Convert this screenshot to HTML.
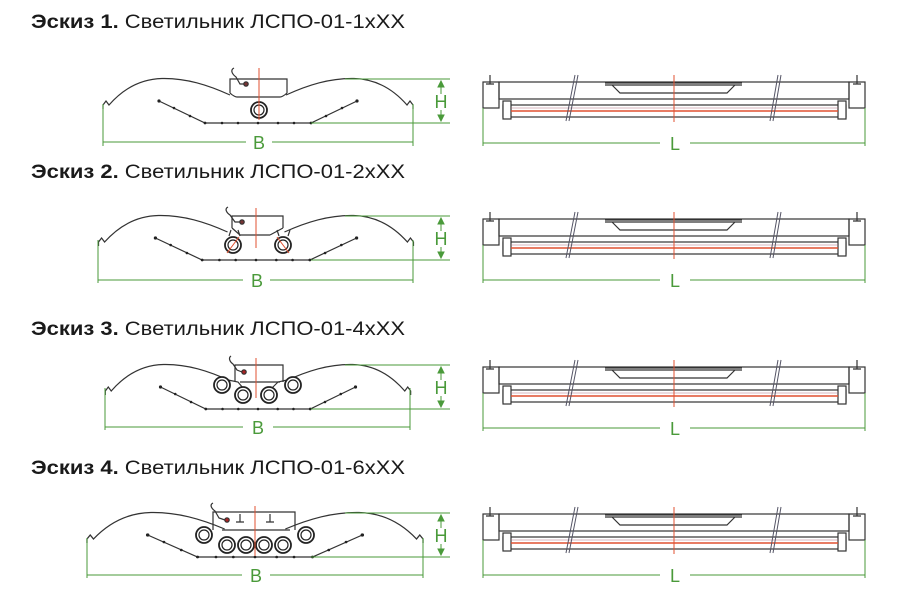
<!DOCTYPE html>
<html><head><meta charset="utf-8"><style>
html,body{margin:0;padding:0;background:#fff;}
svg{display:block;}
text{font-family:"Liberation Sans",sans-serif;}
</style></head><body>
<svg width="902" height="605" viewBox="0 0 902 605" xmlns="http://www.w3.org/2000/svg">
<defs>
 <g id="refl" fill="none" stroke="#333" stroke-width="1.2">
  <path d="M-155,30 L-155,26 L-152,22 L-149,26 C-135,10 -118,0 -96,-0.5 C-72,-1 -50,6 -28,16"/>
  <path d="M155,30 L155,26 L152,22 L149,26 C135,10 118,0 96,-0.5 C72,-1 50,6 28,16"/>
  <path d="M-99,22 L-53,44 L53,44 L99,22"/>
  <g fill="#222" stroke="none">
   <circle cx="-99" cy="22" r="1.6"/><circle cx="-84" cy="29" r="1.3"/><circle cx="-68" cy="37" r="1.3"/>
   <circle cx="99" cy="22" r="1.6"/><circle cx="84" cy="29" r="1.3"/><circle cx="68" cy="37" r="1.3"/>
   <circle cx="-53" cy="44" r="1.4"/><circle cx="-36" cy="44" r="1.3"/><circle cx="-20" cy="44" r="1.3"/><circle cx="0" cy="44" r="1.3"/><circle cx="20" cy="44" r="1.3"/><circle cx="36" cy="44" r="1.3"/><circle cx="53" cy="44" r="1.4"/>
  </g>
 </g>
 <g id="lamp" fill="#fff" stroke="#222">
  <circle r="8" stroke-width="1.8"/><circle r="5" stroke-width="1.2"/>
 </g>
 <g id="side" fill="none" stroke="#333" stroke-width="1.2">
  <rect x="483" y="82" width="16" height="26"/>
  <rect x="849" y="82" width="16" height="26"/>
  <rect x="499" y="82" width="350" height="17"/>
  <path d="M605,83 L742,83 M605,85 L742,85 M612,85 L620,93 L727,93 L735,85"/>
  <rect x="503" y="105" width="343" height="12"/>
  <rect x="503" y="101" width="8" height="18" fill="#fff"/>
  <rect x="838" y="101" width="8" height="18" fill="#fff"/>
  <path d="M490,75 L490,84 M486,84 L494,84 M857,75 L857,84 M853,84 L861,84"/>
  <line x1="511" y1="111" x2="838" y2="111" stroke="#e05030" stroke-width="1.6"/>
  <line x1="511" y1="108" x2="838" y2="108" stroke="#b07080" stroke-width="0.6"/>
  <path d="M566,121 L575,75 M569,121 L578,75 M770,121 L778,75 M773,121 L781,75" stroke="#556" stroke-width="1"/>
  <line x1="674" y1="75" x2="674" y2="122" stroke="#e05030" stroke-width="1"/>
  <g stroke="#4a9a3a" stroke-width="1">
   <path d="M483,108 L483,146 M865,108 L865,146 M483,143 L660,143 M690,143 L865,143"/>
  </g>
  <text x="675" y="150" font-size="18" fill="#4a9a3a" stroke="none" text-anchor="middle">L</text>
 </g>
 <g id="hdim" stroke="#4a9a3a" stroke-width="1" fill="none">
  <path d="M345,0 L450,0 M311,44 L450,44 M441,4 L441,15 M441,31 L441,40"/>
  <path d="M438,8 L441,2 L444,8 Z M438,36 L441,42 L444,36 Z" fill="#4a9a3a"/>
  <text x="441" y="29" font-size="18" fill="#4a9a3a" stroke="none" text-anchor="middle">H</text>
 </g>
</defs>

<text x="31" y="28" font-size="19" fill="#1a1a1a" textLength="374" lengthAdjust="spacingAndGlyphs"><tspan font-weight="bold">Эскиз 1.</tspan> Светильник ЛСПО-01-1хXX</text>
<text x="31" y="178" font-size="19" fill="#1a1a1a" textLength="374" lengthAdjust="spacingAndGlyphs"><tspan font-weight="bold">Эскиз 2.</tspan> Светильник ЛСПО-01-2хXX</text>
<text x="31" y="335" font-size="19" fill="#1a1a1a" textLength="374" lengthAdjust="spacingAndGlyphs"><tspan font-weight="bold">Эскиз 3.</tspan> Светильник ЛСПО-01-4хXX</text>
<text x="31" y="474" font-size="19" fill="#1a1a1a" textLength="374" lengthAdjust="spacingAndGlyphs"><tspan font-weight="bold">Эскиз 4.</tspan> Светильник ЛСПО-01-6хXX</text>

<!-- Sketch 1 -->
<use href="#refl" transform="translate(258,79)"/>
<g fill="none" stroke="#333" stroke-width="1.2">
 <path d="M230,93 L230,79 L287,79 L287,93 M237,97 L280,97 M230,93 C233,96 236,97 237,97 M287,93 C284,96 281,97 280,97"/>
 <path d="M234,68 C230,70 232,74 236,77 L240,84 L244,84"/>
 <circle cx="246" cy="84" r="2.2" fill="#733"/>
</g>
<use href="#lamp" x="259" y="110"/>
<line x1="259" y1="68" x2="259" y2="120" stroke="#e05030" stroke-width="1"/>
<use href="#hdim" transform="translate(0,79)"/>
<g stroke="#4a9a3a" stroke-width="1"><path d="M103,104 L103,146 M413,104 L413,146 M103,142 L246,142 M272,142 L413,142"/></g>
<text x="259" y="149" font-size="18" fill="#4a9a3a" text-anchor="middle">B</text>
<use href="#side"/>

<!-- Sketch 2 -->
<use href="#refl" transform="translate(256,216) scale(1.016,1)"/>
<g fill="none" stroke="#333" stroke-width="1.2">
 <path d="M232,228 L232,216 L283,216 L283,228 M240,235 L270,235 M232,228 L240,235 M283,228 L270,235"/>
 <path d="M228,207 C224,209 227,213 230,215 L235,222 L240,222"/>
 <circle cx="242" cy="222" r="2.2" fill="#733"/>
 <path d="M229,236 L231,230 M240,236 L238,230 M279,236 L277,230 M288,236 L290,230"/>
</g>
<use href="#lamp" x="233" y="245"/><use href="#lamp" x="283" y="245"/>
<line x1="256" y1="208" x2="256" y2="248" stroke="#e05030" stroke-width="1"/>
<line x1="227" y1="253" x2="239" y2="237" stroke="#e05030" stroke-width="1"/>
<line x1="289" y1="253" x2="277" y2="237" stroke="#e05030" stroke-width="1"/>
<use href="#hdim" transform="translate(0,216)"/>
<g stroke="#4a9a3a" stroke-width="1"><path d="M98,240 L98,283 M413,240 L413,283 M98,280 L243,280 M270,280 L413,280"/></g>
<text x="257" y="287" font-size="18" fill="#4a9a3a" text-anchor="middle">B</text>
<use href="#side" transform="translate(0,137)"/>

<!-- Sketch 3 -->
<use href="#refl" transform="translate(258,365) scale(0.985,1)"/>
<g fill="none" stroke="#333" stroke-width="1.2">
 <path d="M235,382 L235,365 L283,365 L283,382 M240,382 L280,382"/>
 <path d="M231,356 C228,358 230,362 233,364 L237,370 L242,372"/>
 <circle cx="244" cy="372" r="2.2" fill="#a22"/>
 <path d="M228,380 L238,382 L243,388 M287,380 L278,382 L272,388"/>
</g>
<use href="#lamp" x="222" y="385"/><use href="#lamp" x="243" y="395"/><use href="#lamp" x="269" y="395"/><use href="#lamp" x="293" y="385"/>
<line x1="256" y1="358" x2="256" y2="398" stroke="#e05030" stroke-width="1"/>
<use href="#hdim" transform="translate(0,365)"/>
<g stroke="#4a9a3a" stroke-width="1"><path d="M105,388 L105,430 M410,388 L410,430 M105,427 L243,427 M273,427 L410,427"/></g>
<text x="258" y="434" font-size="18" fill="#4a9a3a" text-anchor="middle">B</text>
<use href="#side" transform="translate(0,285)"/>

<!-- Sketch 4 -->
<use href="#refl" transform="translate(255,513) scale(1.084,1)"/>
<g fill="none" stroke="#333" stroke-width="1.2">
 <path d="M213,530 L213,512 L295,512 L295,530 M222,530 L290,530"/>
 <path d="M213,503 C209,505 212,509 215,511 L219,518 L225,520"/>
 <circle cx="227" cy="520" r="2.2" fill="#a22"/>
 <path d="M240,514 L240,522 M236,522 L244,522 M270,514 L270,522 M266,522 L274,522"/>
</g>
<use href="#lamp" x="204" y="535"/><use href="#lamp" x="227" y="545"/><use href="#lamp" x="246" y="545"/><use href="#lamp" x="264" y="545"/><use href="#lamp" x="283" y="545"/><use href="#lamp" x="306" y="535"/>
<line x1="255" y1="506" x2="255" y2="556" stroke="#e05030" stroke-width="1"/>
<use href="#hdim" transform="translate(0,513)"/>
<g stroke="#4a9a3a" stroke-width="1"><path d="M87,538 L87,578 M423,538 L423,578 M87,575 L242,575 M270,575 L423,575"/></g>
<text x="256" y="582" font-size="18" fill="#4a9a3a" text-anchor="middle">B</text>
<use href="#side" transform="translate(0,432)"/>
</svg>
</body></html>
